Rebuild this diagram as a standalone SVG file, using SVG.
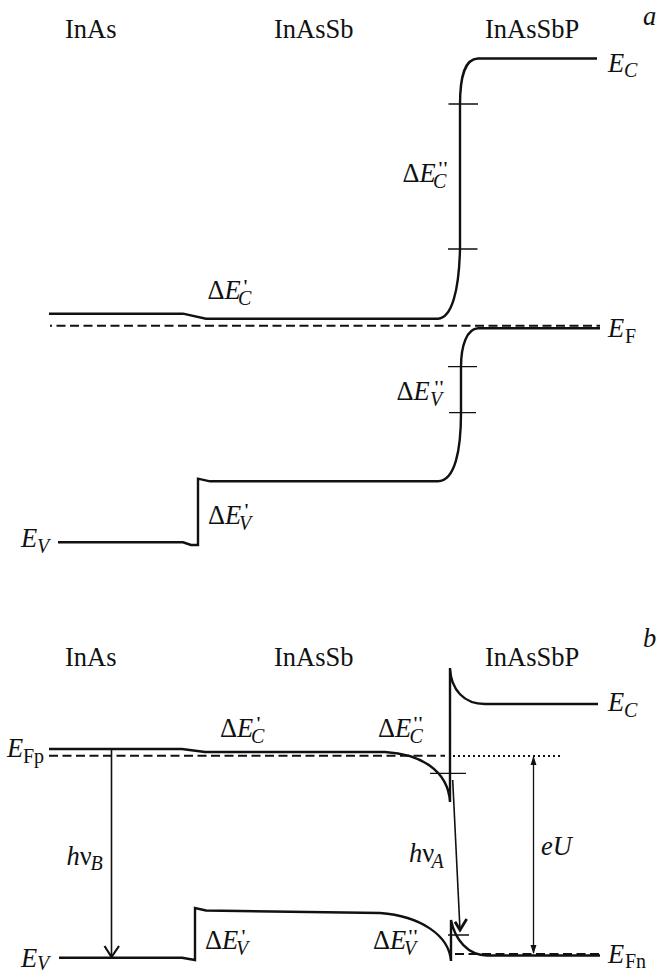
<svg xmlns="http://www.w3.org/2000/svg" width="659" height="974" viewBox="0 0 659 974">
<style>
text{font-family:"Liberation Serif","Times New Roman",serif;font-size:26.500px;fill:#111}
.i{font-style:italic}
.s{font-size:20px;font-style:italic}
.r{font-size:20px;font-style:normal}
.p{font-size:18px;font-weight:bold;font-style:normal}
.n{font-style:normal}
.band{fill:none;stroke:#111;stroke-width:2.400}
.thin{fill:none;stroke:#111;stroke-width:1.300}
.dash{fill:none;stroke:#111;stroke-width:2;stroke-dasharray:9 4.500}
.dot{fill:none;stroke:#111;stroke-width:2;stroke-dasharray:2 3}
</style>
<g id="connectors">
<g id="panel-a-lines">
<path class="band" d="M49 313.700H183L206 318.700H438C452 318 459 290 460 249V105C460 75 465 59 478 58.500H597"/>
<path class="dash" stroke-dashoffset="7" d="M50 325.700H600"/>
<path class="band" d="M478 328.300H600M478 328.300C467 329 461 345 461 367V413C461 450 455 481 438 481.300H210L198 478.700V545H191L183 542.300H58"/>
<path class="thin" d="M448.500 104H478M448 249H477.500M448 366.700H477M449 412.700H476"/>
</g>
<g id="panel-b-lines">
<path class="band" d="M49 749H182L205 752H385C420 754 448 770 450 802M450 802V668C451 690 464 704 485 704H598"/>
<path class="dash" d="M49 755.700H445"/>
<path class="dot" d="M453 756H560"/>
<path class="band" d="M59 957.700H182L195 960V908L206 910.500L380 913C420 916 449 935 451 961V920C455 940 468 955 487 955.500H600"/>
<path class="dash" d="M455 954H600"/>
<path class="thin" d="M430 773.300H466M448 935H469"/>
<path class="thin" style="stroke-width:1.600" d="M111.500 749V957"/>
<path class="band" style="stroke-width:2.200" d="M104.500 946L111.500 957L119 946"/>
<path class="thin" style="stroke-width:1.600" d="M452.700 780L460 930"/>
<path class="band" style="stroke-width:2.800" d="M455 921.700L460 930L466.700 919"/>
<path class="thin" d="M533.500 757V953"/>
<path d="M533.500 756L530.500 765H536.500ZM533.500 954L530.500 945H536.500Z" fill="#111"/>
</g>
</g>
<g id="panel-a-labels">
<text x="65" y="38">InAs</text>
<text x="274" y="38">InAsSb</text>
<text x="485" y="38">InAsSbP</text>
<text class="i" x="643" y="25">a</text>
<text class="i" x="608" y="72">E<tspan class="s" x="624" y="77">C</tspan></text>
<text x="402.500" y="181.500">Δ<tspan class="i">E</tspan><tspan class="s" x="433" y="188">C</tspan><tspan class="p" x="438" y="175">''</tspan></text>
<text x="207.500" y="299">Δ<tspan class="i">E</tspan><tspan class="s" x="238" y="305">C</tspan><tspan class="p" x="243" y="293">'</tspan></text>
<text class="i" x="608" y="337">E<tspan class="r" x="625" y="343">F</tspan></text>
<text x="396.500" y="400">Δ<tspan class="i">E</tspan><tspan class="s" x="430" y="406">V</tspan><tspan class="p" x="434" y="394">''</tspan></text>
<text x="208" y="524">Δ<tspan class="i">E</tspan><tspan class="s" x="239" y="530">V</tspan><tspan class="p" x="244" y="517">'</tspan></text>
<text class="i" x="21" y="547">E<tspan class="s" x="37" y="553">V</tspan></text>
</g>
<g id="panel-b-labels">
<text x="65" y="666">InAs</text>
<text x="274" y="666">InAsSb</text>
<text x="485" y="666">InAsSbP</text>
<text class="i" x="643" y="647">b</text>
<text class="i" x="608" y="711">E<tspan class="s" x="624" y="717">C</tspan></text>
<text x="220" y="736.500">Δ<tspan class="i">E</tspan><tspan class="s" x="251" y="743">C</tspan><tspan class="p" x="256" y="730">'</tspan></text>
<text x="378" y="736.500">Δ<tspan class="i">E</tspan><tspan class="s" x="409.500" y="743">C</tspan><tspan class="p" x="413" y="730">''</tspan></text>
<text class="i" x="7" y="757">E<tspan class="r" x="23" y="763">Fp</tspan></text>
<text class="i" x="66.500" y="865">h<tspan class="n">ν</tspan><tspan class="s" x="90.500" y="870">B</tspan></text>
<text class="i" x="409" y="862">h<tspan class="n">ν</tspan><tspan class="s" x="431.500" y="868">A</tspan></text>
<text class="i" x="541" y="855">eU</text>
<text x="205" y="949">Δ<tspan class="i">E</tspan><tspan class="s" x="236" y="955">V</tspan><tspan class="p" x="241" y="943">'</tspan></text>
<text x="373" y="949">Δ<tspan class="i">E</tspan><tspan class="s" x="404" y="955">V</tspan><tspan class="p" x="408" y="943">''</tspan></text>
<text class="i" x="21" y="967">E<tspan class="s" x="37" y="969.500">V</tspan></text>
<text class="i" x="608" y="963">E<tspan class="r" x="625" y="968">Fn</tspan></text>
</g>
</svg>
